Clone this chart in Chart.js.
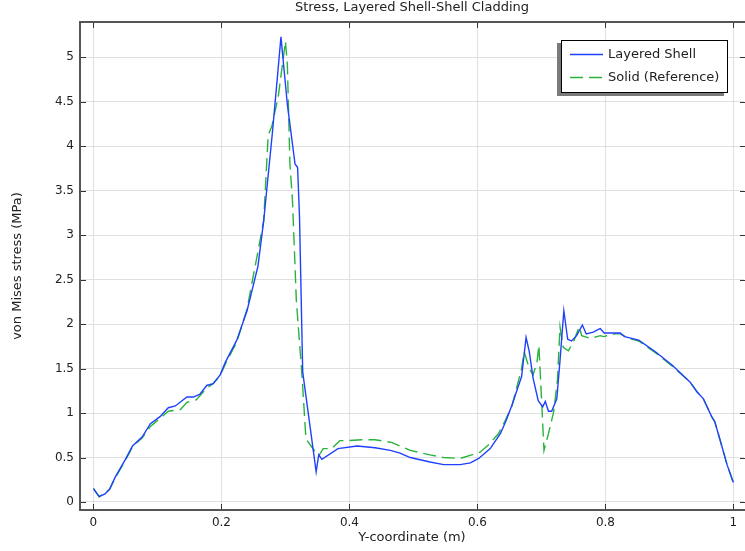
<!DOCTYPE html>
<html>
<head>
<meta charset="utf-8">
<script src="https://cdn.jsdelivr.net/npm/chart.js@4.4.1/dist/chart.umd.min.js"></script>
<style>
html,body{margin:0;padding:0;background:#fff;overflow:hidden;}
canvas{display:block;}
</style>
</head>
<body>
<canvas id="c" width="745" height="551"></canvas>
<script>
const chartTitle = "Stress, Layered Shell-Shell Cladding";
const xTitle = "Y-coordinate (m)";
const yTitle = "von Mises stress (MPa)";
const seriesNames = ["Layered Shell", "Solid (Reference)"];

const xTicks = [0, 0.2, 0.4, 0.6, 0.8, 1];
const yTicks = [0, 0.5, 1, 1.5, 2, 2.5, 3, 3.5, 4, 4.5, 5];

const shellX = [0.000,0.009,0.018,0.025,0.034,0.050,0.061,0.076,0.089,0.104,0.117,0.128,0.146,0.156,0.166,0.177,0.187,0.198,0.206,0.224,0.240,0.257,0.266,0.280,0.293,0.296,0.303,0.315,0.319,0.322,0.327,0.348,0.352,0.357,0.382,0.412,0.440,0.464,0.479,0.495,0.526,0.547,0.573,0.589,0.602,0.620,0.636,0.645,0.654,0.669,0.676,0.681,0.687,0.695,0.702,0.706,0.711,0.716,0.724,0.729,0.735,0.741,0.747,0.755,0.764,0.770,0.781,0.789,0.792,0.798,0.823,0.830,0.852,0.878,0.904,0.932,0.943,0.953,0.966,0.971,0.979,0.990,1.000];
const shellV = [0.15,0.06,0.09,0.14,0.28,0.48,0.63,0.73,0.88,0.96,1.06,1.08,1.18,1.18,1.21,1.31,1.33,1.43,1.57,1.82,2.15,2.65,3.16,4.18,5.23,5.00,4.47,3.80,3.76,3.20,1.46,0.34,0.53,0.48,0.60,0.63,0.61,0.58,0.55,0.50,0.45,0.42,0.42,0.44,0.49,0.60,0.77,0.92,1.09,1.41,1.85,1.69,1.39,1.14,1.07,1.13,1.02,1.02,1.16,1.59,2.15,1.83,1.81,1.87,1.99,1.89,1.91,1.94,1.95,1.90,1.90,1.86,1.82,1.69,1.54,1.35,1.24,1.16,0.96,0.90,0.70,0.42,0.22];

const solidX = [0.000,0.009,0.025,0.034,0.050,0.061,0.076,0.089,0.104,0.117,0.136,0.146,0.161,0.177,0.187,0.198,0.206,0.224,0.240,0.255,0.266,0.273,0.279,0.289,0.300,0.303,0.307,0.311,0.317,0.326,0.332,0.344,0.352,0.359,0.372,0.385,0.398,0.419,0.440,0.466,0.495,0.526,0.547,0.573,0.591,0.604,0.617,0.633,0.643,0.654,0.669,0.673,0.681,0.687,0.693,0.696,0.701,0.704,0.711,0.719,0.725,0.729,0.734,0.742,0.750,0.759,0.763,0.776,0.792,0.797,0.815,0.823,0.836,0.852,0.878,0.904,0.932,0.943,0.953,0.966,0.971,0.979,0.990,1.000];
const solidV = [0.15,0.06,0.14,0.27,0.47,0.62,0.72,0.85,0.94,1.02,1.04,1.12,1.15,1.28,1.33,1.42,1.55,1.80,2.17,2.74,3.16,4.12,4.23,4.57,5.18,4.92,3.80,3.39,2.27,1.41,0.71,0.59,0.52,0.60,0.60,0.69,0.69,0.70,0.70,0.67,0.58,0.53,0.50,0.49,0.53,0.56,0.64,0.77,0.91,1.08,1.50,1.69,1.50,1.43,1.57,1.76,1.03,0.58,0.77,1.01,1.37,1.97,1.74,1.70,1.80,1.97,1.87,1.84,1.87,1.86,1.89,1.89,1.84,1.81,1.68,1.53,1.35,1.24,1.16,0.96,0.90,0.70,0.42,0.21];

const blue = "rgb(32,64,255)";
const green = "rgb(40,180,60)";
const FONT = "'DejaVu Sans', sans-serif";

function pts(xs, vs){ return xs.map((x,i)=>({x:x, y:vs[i]})); }

const decor = {
  id: 'decor',
  afterDraw(chart){
    const ctx = chart.ctx, a = chart.chartArea;
    const xs = chart.scales.x, ys = chart.scales.y;
    const right = a.right + 2;
    ctx.save();
    // inner ticks
    ctx.strokeStyle = '#333'; ctx.lineWidth = 1;
    ctx.beginPath();
    xTicks.forEach(v=>{
      const px = Math.round(xs.getPixelForValue(v))+0.5;
      ctx.moveTo(px, a.bottom); ctx.lineTo(px, a.bottom-6);
      ctx.moveTo(px, a.top); ctx.lineTo(px, a.top+6);
    });
    yTicks.forEach(v=>{
      const py = Math.round(ys.getPixelForValue(v))+0.5;
      ctx.moveTo(a.left, py); ctx.lineTo(a.left+6, py);
      ctx.moveTo(right, py); ctx.lineTo(right-6, py);
    });
    ctx.stroke();
    // frame
    ctx.strokeStyle = '#555'; ctx.lineWidth = 2;
    ctx.strokeRect(a.left, a.top, right-a.left, a.bottom-a.top);
    // title
    ctx.fillStyle = '#222';
    ctx.font = "13px " + FONT;
    ctx.textAlign = 'center'; ctx.textBaseline = 'middle';
    ctx.fillText(chartTitle, 412, 8);
    // legend
    const lx = 561, ly = 40, lw = 167, lh = 53;
    ctx.fillStyle = '#7a7a7a';
    ctx.fillRect(lx-4, ly+3, lw, lh);
    ctx.fillStyle = '#fff';
    ctx.fillRect(lx, ly, lw, lh);
    ctx.strokeStyle = '#000'; ctx.lineWidth = 1;
    ctx.strokeRect(lx+0.5, ly+0.5, lw-1, lh-1);
    const rows = [54, 77];
    chart.data.datasets.forEach((ds,i)=>{
      ctx.strokeStyle = ds.borderColor; ctx.lineWidth = 1.3;
      ctx.setLineDash(ds.borderDash || []);
      ctx.beginPath(); ctx.moveTo(570, rows[i]+0.5); ctx.lineTo(603, rows[i]+0.5); ctx.stroke();
      ctx.setLineDash([]);
      ctx.fillStyle = '#222'; ctx.font = "13px " + FONT;
      ctx.textAlign = 'left'; ctx.textBaseline = 'middle';
      ctx.fillText(ds.label, 608, rows[i]+1);
    });
    ctx.restore();
  }
};

new Chart(document.getElementById('c'), {
  type: 'line',
  data: {
    datasets: [
      {label: seriesNames[0], data: pts(shellX, shellV), borderColor: blue, borderWidth: 1.4, pointRadius: 0, tension: 0, fill: false},
      {label: seriesNames[1], data: pts(solidX, solidV), borderColor: green, borderWidth: 1.4, borderDash: [13,6], pointRadius: 0, tension: 0, fill: false}
    ]
  },
  options: {
    responsive: false,
    animation: false,
    devicePixelRatio: 1,
    layout: {padding: {top: 22, right: 1, left: 0, bottom: 0}},
    plugins: {legend: {display: false}, title: {display: false}, tooltip: {enabled: false}},
    scales: {
      x: {
        type: 'linear', min: -0.021, max: 1.0165,
        afterBuildTicks: s => { s.ticks = xTicks.map(v=>({value:v})); },
        afterFit: s => { s.height = 41; },
        grid: {color: '#e0e0e0', drawTicks: false},
        border: {display: false},
        ticks: {padding: 6, color: '#222', font: {family: FONT, size: 12}, maxRotation: 0, callback: v => String(v)},
        title: {display: true, text: xTitle, color: '#222', font: {family: FONT, size: 13}, padding: {top: 0, bottom: 6}}
      },
      y: {
        type: 'linear', min: -0.09, max: 5.397,
        afterBuildTicks: s => { s.ticks = yTicks.map(v=>({value:v})); },
        afterFit: s => { s.width = 80; },
        grid: {color: '#e0e0e0', drawTicks: false},
        border: {display: false},
        ticks: {padding: 6, color: '#222', font: {family: FONT, size: 12}, callback: v => String(v)},
        title: {display: true, text: yTitle, color: '#222', font: {family: FONT, size: 13}, padding: {top: 10, bottom: 0}}
      }
    }
  },
  plugins: [decor]
});
</script>
</body>
</html>
